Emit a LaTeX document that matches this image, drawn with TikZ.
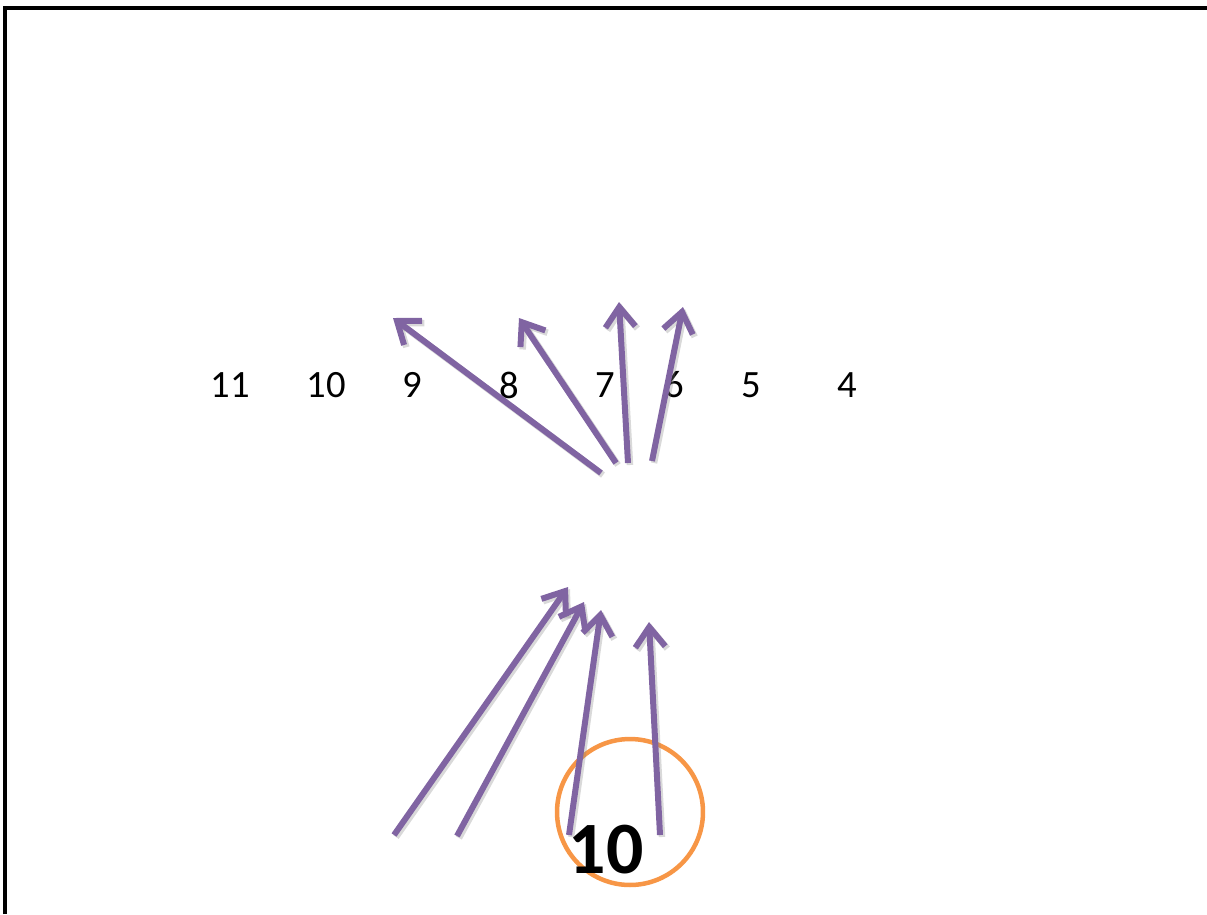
\documentclass[tikz,border=0pt]{standalone}
\usepackage{fontspec}
\setmainfont{Carlito}
\usetikzlibrary{arrows.meta}
\definecolor{arrowpurple}{RGB}{128,100,162}
\definecolor{ringorange}{RGB}{247,150,70}
\tikzset{
  move/.style={draw=arrowpurple, line width=0.12cm, -{Straight Barb[length=0.4cm,width=0.6cm]}},
  moveshade/.style={draw=black!50, opacity=0.3, line width=0.13cm, -{Straight Barb[length=0.4cm,width=0.6cm]}},
  num/.style={font=\fontsize{22}{26}\selectfont, inner sep=0pt},
}
\begin{document}
\begin{tikzpicture}[x=0.02cm,y=-0.02cm]
   \useasboundingbox (0,0) rectangle (1207,914);
   % 枠
   \draw[line width=0.07cm] (5,914) -- (5,8) -- (1207,8);

   % 数字
   \foreach \n/\x in {11/230,10/326,9/412,8/509,7/605,6/674,5/751,4/847}
      \node[num] (n\n) at (\x,385) {\n};

   % 円
   \node[draw=ringorange, line width=0.09cm, circle, minimum size=2.92cm] (ring) at (630,812) {};
   \node[font=\fontsize{42}{48}\selectfont\bfseries, inner sep=0pt] (ten) at (606,850) {10};

   % 矢印
   \foreach \a/\sx/\sy/\ex/\ey in {a/601/473/393/318, b/616/463/519/318, c/628/463/619/302, d/652/461/683/307,
                                   e/394/835/568/587, f/457/836/584/602, g/569/835/601/610, h/660/835/649/622}{
      \coordinate (\a0) at (\sx,\sy);
      \coordinate (\a1) at (\ex,\ey);
      \draw[moveshade] ([shift={(2,2)}]\a0) -- ([shift={(2,2)}]\a1);
      \draw[move] (\a0) -- (\a1);
   }
\end{tikzpicture}
\end{document}
